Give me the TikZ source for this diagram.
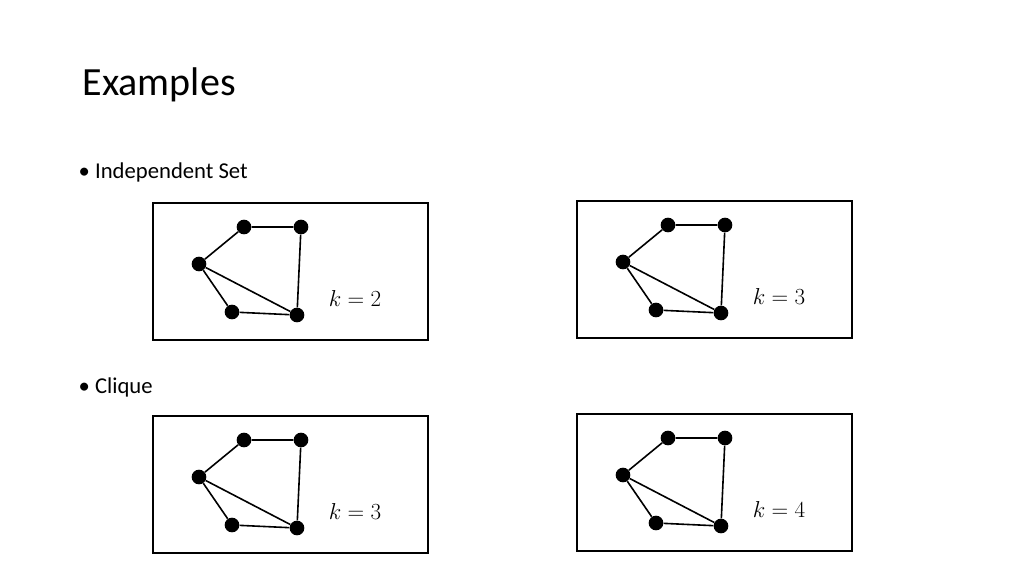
\documentclass[tikz,border=0pt]{standalone}
\usepackage{fontspec}
\setmainfont{Carlito}
\begin{document}
\begin{tikzpicture}[x=0.75pt,y=-0.75pt,
  vtx/.style={circle,fill=black,inner sep=0pt,minimum size=11pt},
  frame/.style={draw,line width=1.5pt},
  edge/.style={line width=1.2pt}]
\useasboundingbox (0,0) rectangle (1024,576);
\node[anchor=west,font=\fontsize{30}{36}\selectfont] (title) at (78,85) {Examples};
\node[anchor=west,font=\fontsize{17}{20}\selectfont] (b1) at (74,172) {\textbullet\ Independent Set};
\node[anchor=west,font=\fontsize{17}{20}\selectfont] (b2) at (74,387) {\textbullet\ Clique};
\foreach \ox/\oy/\k/\n in {153/203/2/A,577/201/3/B,153/416/3/C,577/414/4/D}{
  \begin{scope}[shift={(\ox,\oy)}]
    \draw[frame] (0,0) rectangle (275,137);
    \node[vtx] (\n a) at (91,24) {};
    \node[vtx] (\n b) at (148,24) {};
    \node[vtx] (\n c) at (46,61) {};
    \node[vtx] (\n d) at (79,109) {};
    \node[vtx] (\n e) at (144,112) {};
    \draw[edge] (\n a)--(\n b) (\n b)--(\n e) (\n c)--(\n a) (\n c)--(\n d) (\n c)--(\n e) (\n d)--(\n e);
    \node[font=\fontsize{18}{22}\selectfont] (\n k) at (202,95) {$k=\k$};
  \end{scope}}
\end{tikzpicture}
\end{document}
